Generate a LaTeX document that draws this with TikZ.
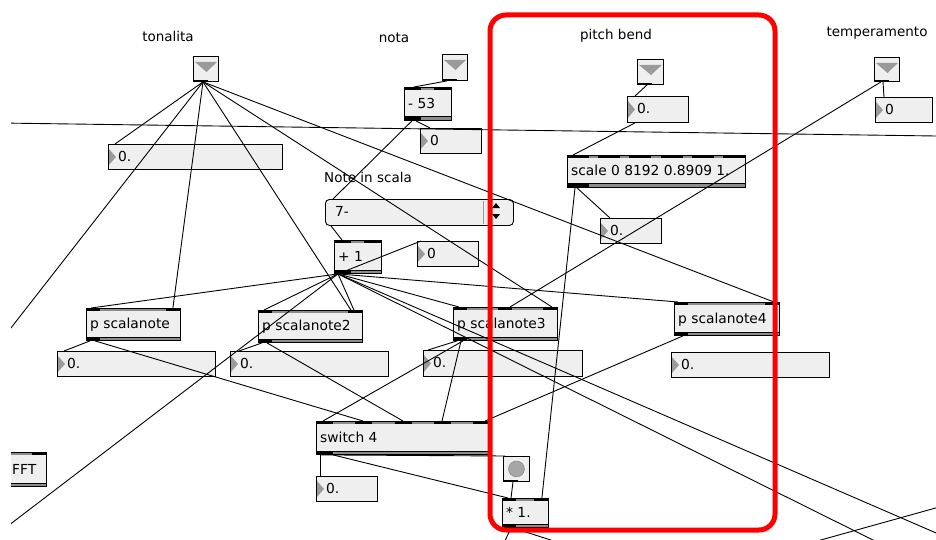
\documentclass[tikz,border=0pt]{standalone}
\usepackage{fontspec}
\setmainfont{DejaVu Sans}
\usetikzlibrary{calc}
\definecolor{boxfill}{HTML}{EFEFEF}
\definecolor{tri}{HTML}{9A9A9A}
\definecolor{barg}{HTML}{8C8C8C}
\tikzset{
  wire/.style={black, line width=0.9pt},
  objbox/.style={draw=black, fill=boxfill, line width=0.9pt, anchor=north west, inner sep=0pt, rectangle},
  lbl/.style={font=\fontsize{13.5}{14}\selectfont, inner sep=0pt},
  txt/.style={font=\fontsize{13.8}{14}\selectfont, anchor=base west, inner sep=0pt},
}
% object box: name x y w h text ninlets inletwidth
\newcommand\mxobj[8]{%
  \node[objbox, minimum width=#4pt, minimum height=#5pt] (#1) at (#2,#3) {};
  \fill[barg] (#1.north west) rectangle ($(#1.north east)+(0,3)$);
  \pgfmathsetmacro\mxstep{(#4-#8)/(#7-1)}
  \foreach \k in {1,...,#7} {\fill[black] ($(#1.north west)+({(\k-1)*\mxstep},0)$) rectangle ++(#8,3);}
  \fill[barg] ($(#1.south west)+(0,-4)$) rectangle (#1.south east);
  \draw[line width=0.8pt] ($(#1.south west)+(0,-4)$) -- ($(#1.south east)+(0,-4)$);
  \fill ($(#1.south west)+(0,-4)$) rectangle ++(#8,4);
  \draw[line width=0.9pt] (#1.north west) rectangle (#1.south east);
  \node[txt] (#1-t) at ($(#1.west)+(4,4.5)$) {#6};
}
% number box: name x y w h text
\newcommand\mxnum[6]{%
  \node[objbox, minimum width=#4pt, minimum height=#5pt] (#1) at (#2,#3) {};
  \fill[tri] ($(#1.north west)+(1,5)$) -- ($(#1.west)+(8,0)$) -- ($(#1.south west)+(1,-5)$) -- cycle;
  \node[txt] (#1-t) at ($(#1.west)+(10,4.5)$) {#6};
}
% inlet-like toggle: name x y w h
\newcommand\mxtog[5]{%
  \node[objbox, minimum width=#4pt, minimum height=#5pt] (#1) at (#2,#3) {};
  \fill[tri] ($(#1.north west)+(2,6)$) -- ($(#1.north east)+(-2,6)$) -- ($(#1.north west)+({#4/2+1},16)$) -- cycle;
  \fill ($(#1.south west)+(1,-2)$) rectangle ++(14,2);
}
\begin{document}
\begin{tikzpicture}[x=1pt,y=-1pt]
\useasboundingbox (0,0) rectangle (936,540);
\fill[white] (0,0) rectangle (936,540);
\begin{scope}
\clip (11,0) rectangle (936,540);

% labels
\node[lbl] (ltonal) at (168,36) {tonalita};
\node[lbl] (lnota) at (394,38) {nota};
\node[lbl] (lpitch) at (616,36) {pitch bend};
\node[lbl] (ltemp) at (877,33) {temperamento};
\node[lbl] (lnote) at (368,177) {Note in scala};

% off-screen ends
\coordinate (offL1) at (0,342);
\coordinate (offL2) at (0,532);
\coordinate (offA) at (950,539);
\coordinate (offB) at (885,546);
\coordinate (LA) at (0,123);
\coordinate (LB) at (936,136);
\coordinate (offC1) at (810,543);
\coordinate (offC2) at (950,504);
\coordinate (offD) at (503,545);
\coordinate (offE) at (560,543);

% toggles
\mxtog{T1}{193}{56}{25}{25}
\mxtog{T2}{442}{54}{25}{26}
\mxtog{T3}{637}{59}{26}{25}
\mxtog{T4}{874}{57}{25}{24}

% number boxes
\mxnum{n1}{108}{144}{174}{25}{0.}
\mxnum{n2}{420}{128}{61}{25}{0}
\mxnum{n3}{627}{96}{61}{26}{0.}
\mxnum{n4}{875}{97}{57}{25}{0}
\mxnum{n5}{600}{218}{61}{25}{0.}
\mxnum{n6}{417}{241}{61}{25}{0}
\mxnum{n7}{57}{351}{158}{25}{0.}
\mxnum{n8}{230}{351}{158}{25}{0.}
\mxnum{n9}{423}{350}{159}{26}{0.}
\mxnum{n10}{671}{352}{158}{25}{0.}
\mxnum{n11}{316}{476}{61}{25}{0.}

% objects
\mxobj{o53}{404}{87}{47}{33}{- 53}{2}{17}
\mxobj{oplus}{334}{240}{47}{33}{+ 1}{2}{17}
\mxobj{oscale}{567}{155}{178}{32}{scale 0 8192 0.8909 1.}{6}{22}
\mxobj{sc1}{86}{308}{94}{32}{p scalanote}{2}{14}
\mxobj{sc2}{258}{310}{104}{32}{p scalanote2}{2}{14}
\mxobj{sc3}{453}{307}{104}{33}{p scalanote3}{3}{14}
\mxobj{sc4}{674}{302}{105}{33}{p scalanote4}{2}{14}
\mxobj{osw}{316}{421}{174}{33}{switch 4}{5}{17}
\mxobj{omul}{502}{498}{46}{29}{* 1.}{2}{14}
\mxobj{offt}{-30}{452}{76}{34}{}{2}{14}
\node[txt] (offt-l) at (12,474) {FFT};

% button
\node[objbox, minimum width=26pt, minimum height=25pt] (btn) at (503,456) {};
\fill[gray!70, draw=gray] (btn.center) circle (8pt);
\fill ($(btn.south west)+(1,-2)$) rectangle ++(14,2);

% umenu
\node[objbox, rounded corners=4pt, minimum width=188pt, minimum height=26pt] (menu) at (325,199) {};
\draw[gray!80, line width=0.8pt] ($(menu.north west)+(158,2)$) -- ($(menu.south west)+(158,-2)$);
\fill ($(menu.north west)+(167,9)$) -- ++(8,0) -- ++(-4,-5) -- cycle;
\fill ($(menu.north west)+(167,15)$) -- ++(8,0) -- ++(-4,5) -- cycle;
\node[txt] (menu-t) at ($(menu.west)+(10,4.5)$) {7-};

% wires
\draw[wire] (LA) -- (LB);
\draw[wire] ($(T1.south west)+(10,0)$) -- ($(n1.north west)+(7,0)$);
\draw[wire] ($(T1.south west)+(10,0)$) -- (offL1);
\draw[wire] ($(T1.south west)+(10,0)$) -- ($(sc1.north east)+(-8,0)$);
\draw[wire] ($(T1.south west)+(10,0)$) -- ($(sc2.north east)+(-12,0)$);
\draw[wire] ($(T1.south west)+(10,0)$) -- ($(sc3.north east)+(-6,0)$);
\draw[wire] ($(T1.south west)+(10,0)$) -- ($(sc4.north east)+(-6,0)$);

\draw[wire] ($(T2.south west)+(5,0)$) -- ($(o53.north west)+(10,0)$);
\draw[wire] ($(o53.south west)+(12,0)$) -- ($(n2.north west)+(10,0)$);
\draw[wire] ($(o53.south west)+(8,0)$) -- ($(menu.north west)+(8,0)$);
\draw[wire] ($(menu.south west)+(6,0)$) -- ($(oplus.north west)+(8,0)$);

\draw[wire] ($(oplus.south west)+(4,0)$) -- ($(n6.north west)+(4,0)$);
\draw[wire] ($(oplus.south west)+(4,0)$) -- ($(sc1.north west)+(5,0)$);
\draw[wire] ($(oplus.south west)+(4,0)$) -- ($(sc2.north west)+(6,0)$);
\draw[wire] ($(oplus.south west)+(4,0)$) -- ($(sc2.north east)+(-9,0)$);
\draw[wire] ($(oplus.south west)+(4,0)$) -- (offL2);
\draw[wire] ($(oplus.south west)+(4,0)$) -- ($(sc3.north west)+(6,0)$);
\draw[wire] ($(oplus.south west)+(4,0)$) -- ($(sc4.north west)+(4,0)$);
\draw[wire] ($(oplus.south west)+(4,0)$) -- (offA);
\draw[wire] ($(oplus.south west)+(4,0)$) -- (offB);

\draw[wire] ($(T3.south west)+(10,0)$) -- ($(n3.north west)+(8,0)$);
\draw[wire] ($(n3.south west)+(8,0)$) -- ($(oscale.north west)+(6,0)$);
\draw[wire] ($(oscale.south west)+(10,0)$) -- ($(n5.north west)+(10,0)$);
\draw[wire] ($(oscale.south west)+(8,0)$) -- ($(omul.north east)+(-7,0)$);

\draw[wire] ($(T4.south west)+(9,0)$) -- ($(n4.north west)+(9,0)$);
\draw[wire] ($(T4.south west)+(7,0)$) -- ($(sc3.north west)+(57,0)$);

\draw[wire] ($(sc1.south west)+(4,0)$) -- ($(n7.north west)+(7,0)$);
\draw[wire] ($(sc1.south west)+(9,0)$) -- ($(osw.north west)+(47,0)$);
\draw[wire] ($(sc2.south west)+(4,0)$) -- ($(n8.north west)+(9,0)$);
\draw[wire] ($(sc2.south west)+(9,0)$) -- ($(osw.north west)+(87,0)$);
\draw[wire] ($(sc3.south west)+(4,0)$) -- ($(n9.north west)+(5,0)$);
\draw[wire] ($(sc3.south west)+(8,0)$) -- ($(osw.north west)+(126,0)$);
\draw[wire] ($(sc3.south west)+(10,0)$) -- ($(osw.north west)+(7,0)$);
\draw[wire] ($(sc4.south west)+(9,0)$) -- ($(osw.north west)+(169,0)$);

\draw[wire] ($(osw.south west)+(4,0)$) -- ($(n11.north west)+(4,0)$);
\draw[wire] ($(osw.south west)+(4,0)$) -- ($(btn.north west)+(2,0)$);
\draw[wire] ($(osw.south west)+(17,0)$) -- ($(omul.north west)+(6,0)$);
\draw[wire] ($(btn.south west)+(10,0)$) -- ($(omul.north west)+(9,0)$);
\draw[wire] ($(omul.south west)+(9,0)$) -- (offD);
\draw[wire] ($(omul.south west)+(11,0)$) -- (offE);
\draw[wire] (offC1) -- (offC2);
\end{scope}

\draw[red, line width=5pt, rounded corners=16pt] (490,15) rectangle (775,530);
\end{tikzpicture}
\end{document}
